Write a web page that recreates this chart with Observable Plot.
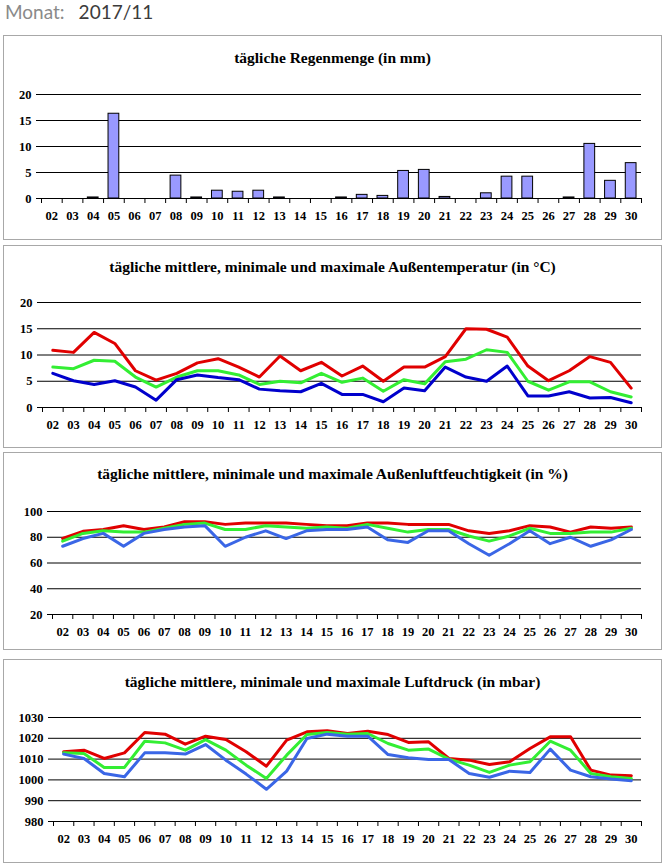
<!DOCTYPE html>
<html><head><meta charset="utf-8">
<script src="https://cdn.jsdelivr.net/npm/d3@7"></script>
<script src="https://cdn.jsdelivr.net/npm/@observablehq/plot@0.6"></script>
<style>
body{margin:0;background:#fff;width:665px;height:867px;position:relative;overflow:hidden}
.hdr{position:absolute;left:5px;top:0px;font-family:Lato,"Open Sans",sans-serif;font-size:19px;color:#8a8a8a;white-space:nowrap}
.hdr span{color:#3c3c3c;margin-left:14px}
.box{position:absolute;left:3px;width:657px;border:1px solid #a8a8a8;background:#fff}
.ttl{position:absolute;left:0;right:0;text-align:center;font-family:"Liberation Serif",serif;font-weight:bold;font-size:15.5px;color:#000;white-space:nowrap}
.box svg{position:absolute;left:0;top:0}
</style></head><body>
<div class="hdr">Monat:<span>2017/11</span></div>
<div id="charts"></div>
<script>
const days = ["02","03","04","05","06","07","08","09","10","11","12","13","14","15","16","17","18","19","20","21","22","23","24","25","26","27","28","29","30"];

const rain = [0,0,0.2,16.3,0,0,4.4,0.2,1.5,1.3,1.5,0.2,0,0,0.2,0.7,0.5,5.3,5.5,0.3,0,1.0,4.2,4.2,0,0.2,10.5,3.4,6.8];

const tempMax  = [10.9,10.5,14.3,12.2,7.0,5.2,6.5,8.5,9.3,7.7,5.8,9.8,7.0,8.6,6.0,7.9,5.0,7.7,7.7,9.7,15.0,14.9,13.4,7.9,5.1,7.0,9.7,8.6,3.7];
const tempMean = [7.7,7.4,9.0,8.8,5.8,3.9,5.8,7.0,7.0,6.2,4.4,5.0,4.7,6.5,4.8,5.6,3.1,5.3,4.5,8.7,9.2,11.0,10.5,5.0,3.3,4.9,4.9,3.0,2.0];
const tempMin  = [6.5,5.1,4.4,5.1,3.9,1.4,5.3,6.2,5.7,5.3,3.5,3.2,3.0,4.6,2.5,2.5,1.1,3.7,3.2,7.7,5.8,5.0,7.9,2.2,2.2,3.0,1.8,1.9,0.9];

const humMax  = [79,84.6,86,89,86,88,92,92,90,91,91,91,90,89,89,91,91,90,90,90,85,83,85,89,88,84,88,87,88];
const humMean = [77,83,85,84,84,87,90,91,86,86,89,88,87,88,87,90,87,84,86,86,81,77,81,87,83,83,84,84,87];
const humMin  = [73,79,83,73,83,86,88,89,73,80,85,79,85,86,86,88,78,76,85,85,75,66,75,85,75,80,73,78,86];

const presMax  = [1013.5,1014.3,1010.3,1013,1022.8,1022,1017.2,1021,1019.4,1013.5,1006.6,1019.1,1023.1,1023.6,1022.3,1023.4,1021.8,1018,1018.3,1010.3,1009.5,1007.4,1008.7,1015.1,1020.7,1020.7,1004.7,1002.3,1002];
const presMean = [1013,1012.7,1006,1006,1018.6,1017.8,1014.3,1019.4,1014.3,1007.1,1000.7,1011.9,1021.8,1022.8,1022,1022.3,1017.5,1014.3,1014.8,1010,1007.1,1003.6,1007.1,1008.7,1018.6,1014.3,1003.1,1001.5,1000.7];
const presMin  = [1012.4,1010.3,1003.1,1001.5,1013,1013,1012.4,1017,1009.5,1002.8,995.5,1004.2,1019.9,1022,1021,1021,1012.2,1010.6,1009.8,1009.8,1003.1,1001.3,1004.2,1003.6,1014.8,1004.7,1001.5,1000.4,999.6];

const titles = [
  "tägliche Regenmenge (in mm)",
  "tägliche mittlere, minimale und maximale Außentemperatur (in °C)",
  "tägliche mittlere, minimale und maximale Außenluftfeuchtigkeit (in %)",
  "tägliche mittlere, minimale und maximale Luftdruck (in mbar)"
];
const yTicksRain = [0,5,10,15,20];
const yTicksTemp = [0,5,10,15,20];
const yTicksHum  = [20,40,60,80,100];
const yTicksPres = [980,990,1000,1010,1020,1030];

const RED = "#e00000", GREEN = "#33ee33", DBLUE = "#0000cc", LBLUE = "#3a66e6";

const W = 657;
const panels = [
  {top:35, h:203, ml:37, mr:20, mt:58, mb:41, titleTop:13, ticks:yTicksRain, bars:rain},
  {top:245, h:201, ml:38, mr:20, mt:56, mb:40, titleTop:12, ticks:yTicksTemp, lines:[[tempMax,RED],[tempMean,GREEN],[tempMin,DBLUE]]},
  {top:452, h:196, ml:48, mr:20, mt:58, mb:35, titleTop:12, ticks:yTicksHum, lines:[[humMax,RED],[humMean,GREEN],[humMin,LBLUE]]},
  {top:659, h:202, ml:49, mr:20, mt:57, mb:41, titleTop:13, ticks:yTicksPres, lines:[[presMax,RED],[presMean,GREEN],[presMin,LBLUE]]}
];

const host = document.getElementById("charts");
panels.forEach((p, i) => {
  const box = document.createElement("div");
  box.className = "box";
  box.style.top = p.top + "px";
  box.style.height = p.h + "px";
  const lo = p.ticks[0], hi = p.ticks[p.ticks.length - 1];
  const bw = (W - p.ml - p.mr) / days.length;
  const marks = [
    Plot.ruleY(p.ticks, {stroke: "black", strokeWidth: 1}),
    Plot.axisY({ticks: p.ticks, tickSize: 5, tickPadding: 5, tickFormat: d => String(d)}),
    Plot.axisX({tickSize: 0, tickPadding: 13}),
    Plot.ruleX(days, {x: d => d, y1: () => lo, y2: () => lo, dx: -bw / 2, insetBottom: -5, stroke: "black"}),
    Plot.ruleX([days[days.length - 1]], {x: d => d, y1: () => lo, y2: () => lo, dx: bw / 2, insetBottom: -5, stroke: "black"})
  ];
  if (p.bars) {
    marks.push(Plot.barY(p.bars, {x: days, y: d => d, fill: "#9999ff", stroke: "black", strokeWidth: 1, insetLeft: bw * 0.24, insetRight: bw * 0.24}));
  }
  if (p.lines) {
    for (const [vals, col] of p.lines) {
      marks.push(Plot.lineY(vals, {x: days, y: d => d, stroke: col, strokeWidth: 3}));
    }
  }
  marks.push(Plot.ruleY([lo], {stroke: "black", strokeWidth: 1}));
  const svg = Plot.plot({
    width: W, height: p.h,
    marginLeft: p.ml, marginRight: p.mr, marginTop: p.mt, marginBottom: p.mb,
    style: {fontFamily: "'Liberation Serif', serif", fontSize: "12.5px", fontWeight: "bold", color: "black", background: "transparent", overflow: "visible"},
    x: {type: "band", domain: days, padding: 0, round: false, axis: null},
    y: {domain: [lo, hi], axis: null},
    marks
  });
  box.appendChild(svg);
  const t = document.createElement("div");
  t.className = "ttl";
  t.style.top = p.titleTop + "px";
  t.textContent = titles[i];
  box.appendChild(t);
  host.appendChild(box);
});
</script>
</body></html>
